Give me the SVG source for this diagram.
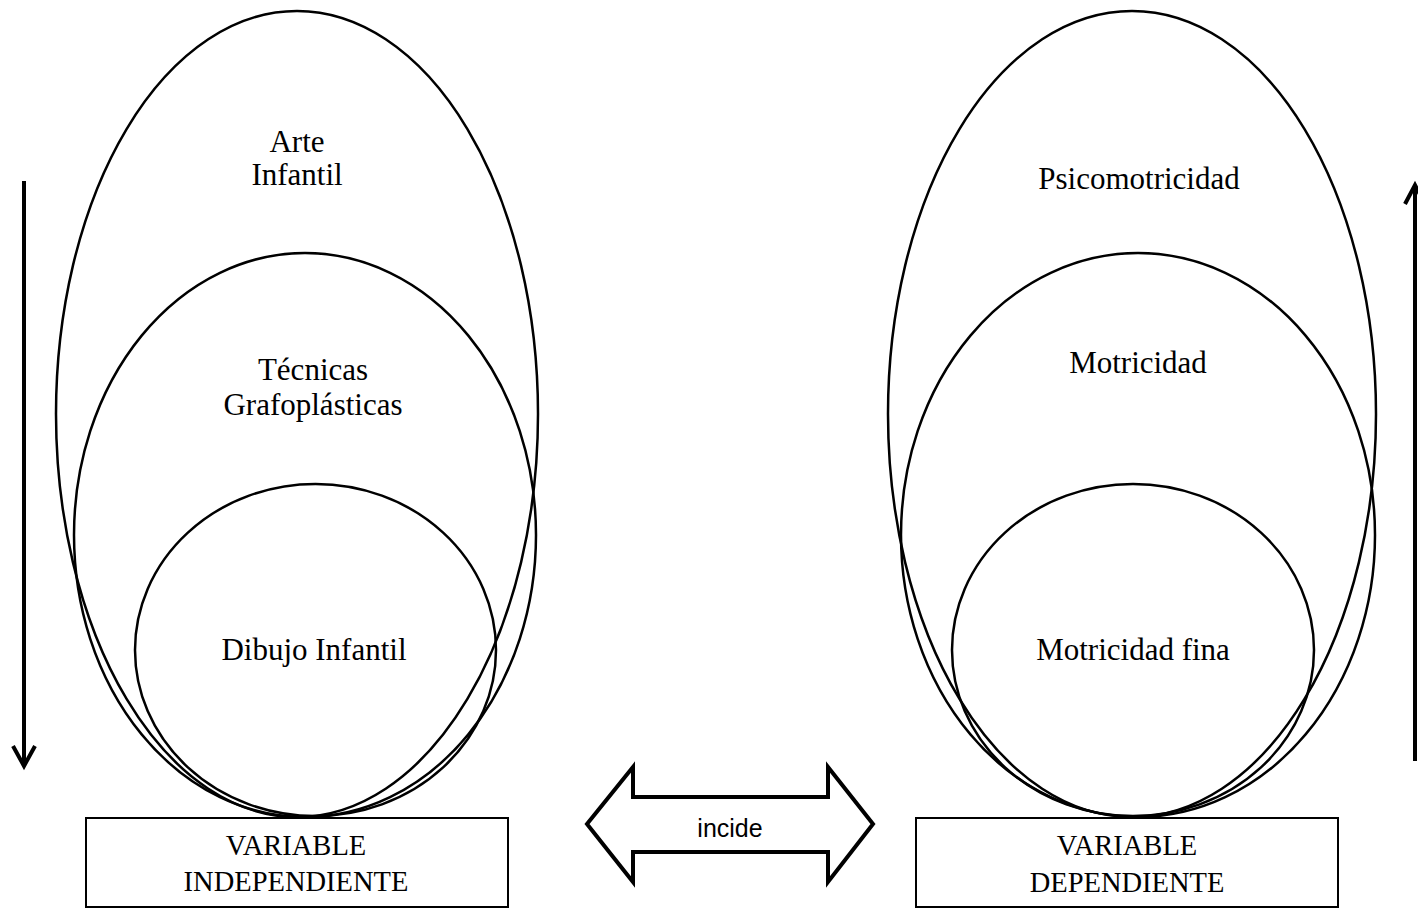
<svg xmlns="http://www.w3.org/2000/svg" width="1418" height="909" viewBox="0 0 1418 909">
<style>
.el{fill:none;stroke:#000;stroke-width:2.5}
.box{fill:#fff;stroke:#000;stroke-width:2}
.t{font-family:"Liberation Serif","Times New Roman",serif;font-size:31px;fill:#000;text-anchor:middle}
.bt{font-family:"Liberation Serif","Times New Roman",serif;font-size:28.5px;fill:#000;text-anchor:middle}
.arr{fill:none;stroke:#000;stroke-width:4;stroke-linecap:butt}
</style>
<rect width="1418" height="909" fill="#fff"/>
<g id="arte-infantil">
<ellipse class="el" cx="297" cy="414" rx="241" ry="403"/>
<text class="t" x="297" y="152">Arte</text>
<text class="t" x="297" y="185">Infantil</text>
</g>
<g id="tecnicas">
<ellipse class="el" cx="305" cy="535" rx="231" ry="282"/>
<text class="t" x="313" y="380">Técnicas</text>
<text class="t" x="313" y="415">Grafoplásticas</text>
</g>
<g id="dibujo">
<ellipse class="el" cx="315.5" cy="650" rx="180.5" ry="166"/>
<text class="t" x="314" y="660">Dibujo Infantil</text>
</g>
<g id="psicomotricidad">
<ellipse class="el" cx="1132" cy="414" rx="244" ry="403"/>
<text class="t" x="1139" y="189">Psicomotricidad</text>
</g>
<g id="motricidad">
<ellipse class="el" cx="1138" cy="535" rx="237" ry="282"/>
<text class="t" x="1138" y="373">Motricidad</text>
</g>
<g id="motricidad-fina">
<ellipse class="el" cx="1133" cy="650" rx="181" ry="166"/>
<text class="t" x="1133" y="660">Motricidad fina</text>
</g>
<g id="var-independiente">
<rect class="box" x="86" y="818" width="422" height="89"/>
<text class="bt" x="296" y="855">VARIABLE</text>
<text class="bt" x="296" y="891">INDEPENDIENTE</text>
</g>
<g id="var-dependiente">
<rect class="box" x="916" y="818" width="422" height="89"/>
<text class="bt" x="1127" y="855">VARIABLE</text>
<text class="bt" x="1127" y="892">DEPENDIENTE</text>
</g>
<g id="connectors">
<line class="arr" x1="24" y1="181" x2="24" y2="765"/>
<polyline class="arr" points="13,746 24,766 35,746"/>
<line class="arr" x1="1415" y1="185" x2="1415" y2="761"/>
<polyline class="arr" points="1405,204 1415,185 1425,204"/>
<g id="incide">
<polygon points="587,824 633,767 633,797 828,797 828,767 873,824 828,882 828,852 633,852 633,882" fill="#fff" stroke="#000" stroke-width="4" stroke-linejoin="miter"/>
<text x="730" y="837" font-family="Liberation Sans, Arial, sans-serif" font-size="25" text-anchor="middle" fill="#000">incide</text>
</g>
</g>
</svg>
